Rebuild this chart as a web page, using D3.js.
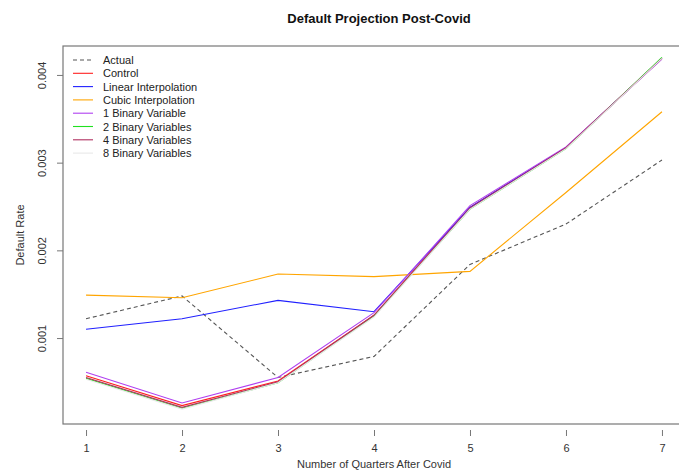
<!DOCTYPE html>
<html>
<head>
<meta charset="utf-8">
<script src="https://cdn.jsdelivr.net/npm/d3@7"></script>
<style>
  html, body { margin: 0; padding: 0; background: #fff; }
  svg { display: block; font-family: "Liberation Sans", Arial, sans-serif; }
</style>
</head>
<body>
<svg id="chart" width="679" height="470"></svg>
<script>
// ---- data ----
const quarters = [1, 2, 3, 4, 5, 6, 7];
const yTicks = [0.001, 0.002, 0.003, 0.004];
const yTickLabels = ["0.001", "0.002", "0.003", "0.004"];
const seriesNames = ["Actual", "Control", "Linear Interpolation", "Cubic Interpolation",
  "1 Binary Variable", "2 Binary Variables", "4 Binary Variables", "8 Binary Variables"];
const actual   = [0.00122, 0.00148, 0.00055, 0.00079, 0.00184, 0.00230, 0.00303];
const control  = [0.00057, 0.00023, 0.00051, 0.00126, 0.00249, 0.00317, 0.00419];
const linear   = [0.00110, 0.00122, 0.00143, 0.00130, 0.00249, 0.00317, 0.00419];
const cubic    = [0.00149, 0.00146, 0.00173, 0.00170, 0.00176, 0.00266, 0.00358];
const binary1  = [0.00061, 0.00026, 0.00055, 0.00129, 0.00251, 0.00318, 0.00418];
const binary2  = [0.00054, 0.00020, 0.00049, 0.00125, 0.00247, 0.00316, 0.00420];
const binary4  = [0.00055, 0.00021, 0.00050, 0.00126, 0.00248, 0.00317, 0.00419];
const binary8  = [0.00053, 0.00019, 0.00049, 0.00124, 0.00247, 0.00316, 0.00419];
const seriesValues = [actual, control, linear, cubic, binary1, binary2, binary4, binary8];
const seriesColors = ["#555555", "#FF2020", "#2020FF", "#FFA500", "#B040F0", "#20E020", "#B03060", "#E8E8E8"];
const seriesDash = ["4,3", null, null, null, null, null, null, null];

// ---- layout ----
const svg = d3.select("#chart");
const plot = { left: 63, right: 685, top: 46, bottom: 424 };
const x = d3.scaleLinear().domain([0.76, 7.24]).range([plot.left, plot.right]);
const y = d3.scaleLinear().domain([0.00002, 0.00433]).range([plot.bottom, plot.top]);

// title
svg.append("text")
  .attr("x", 379).attr("y", 23)
  .attr("text-anchor", "middle")
  .attr("font-size", 13).attr("font-weight", "bold")
  .attr("fill", "#111")
  .text("Default Projection Post-Covid");

// lines
const line = d3.line().x((d, i) => x(quarters[i])).y(d => y(d));
const g = svg.append("g");
seriesValues.forEach((vals, k) => {
  g.append("path")
    .datum(vals)
    .attr("d", line)
    .attr("fill", "none")
    .attr("stroke", seriesColors[k])
    .attr("stroke-width", 1.1)
    .attr("stroke-dasharray", seriesDash[k]);
});

// box
svg.append("rect")
  .attr("x", plot.left).attr("y", plot.top)
  .attr("width", plot.right - plot.left).attr("height", plot.bottom - plot.top)
  .attr("fill", "none").attr("stroke", "#777").attr("stroke-width", 1.2);

// x axis
const xAxis = d3.axisBottom(x).tickValues(quarters).tickFormat(d3.format("d"))
  .tickSizeInner(6).tickSizeOuter(0).tickPadding(8);
const xg = svg.append("g").attr("transform", `translate(0,${plot.bottom + 6})`).call(xAxis);
xg.select(".domain").remove();
xg.selectAll(".tick line").attr("stroke", "#777");
xg.selectAll(".tick text").attr("font-size", 11).attr("fill", "#333")
  .attr("font-family", "Liberation Sans, Arial, sans-serif");

// y axis
const yAxis = d3.axisLeft(y).tickValues(yTicks).tickFormat((d, i) => yTickLabels[i])
  .tickSizeInner(6).tickSizeOuter(0);
const yg = svg.append("g").attr("transform", `translate(${plot.left - 6},0)`).call(yAxis);
yg.select(".domain").remove();
yg.selectAll(".tick line").attr("stroke", "#777").attr("x2", 6);
yg.selectAll(".tick text")
  .attr("font-size", 11).attr("fill", "#333")
  .attr("font-family", "Liberation Sans, Arial, sans-serif")
  .attr("x", null).attr("dy", null)
  .attr("text-anchor", "middle")
  .attr("transform", "translate(-11,0) rotate(-90)");

// axis titles
svg.append("text")
  .attr("x", 374).attr("y", 468)
  .attr("text-anchor", "middle").attr("font-size", 11).attr("fill", "#333")
  .text("Number of Quarters After Covid");
svg.append("text")
  .attr("transform", `translate(24,${(plot.top + plot.bottom) / 2}) rotate(-90)`)
  .attr("text-anchor", "middle").attr("font-size", 11).attr("fill", "#333")
  .text("Default Rate");

// legend
const leg = svg.append("g");
seriesNames.forEach((name, k) => {
  const ly = 60 + k * 13.3;
  leg.append("line")
    .attr("x1", 73).attr("x2", 93).attr("y1", ly).attr("y2", ly)
    .attr("stroke", seriesColors[k]).attr("stroke-width", 1.1)
    .attr("stroke-dasharray", seriesDash[k]);
  leg.append("text")
    .attr("x", 103).attr("y", ly + 4)
    .attr("font-size", 11).attr("fill", "#222")
    .text(name);
});
</script>
</body>
</html>
